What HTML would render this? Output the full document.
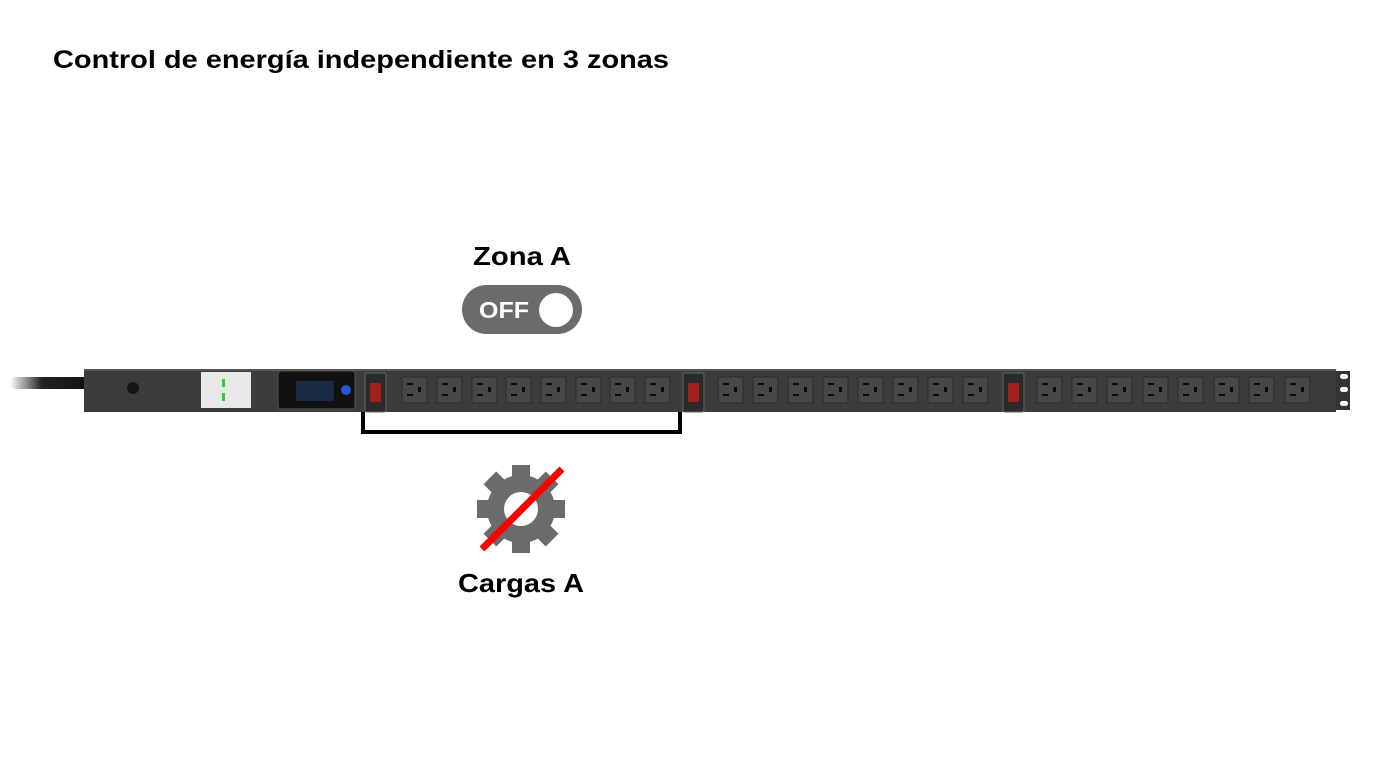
<!DOCTYPE html>
<html><head><meta charset="utf-8"><style>
html,body{margin:0;padding:0;background:#fff;}
body{width:1380px;height:780px;overflow:hidden;position:relative;font-family:"Liberation Sans",Arial,sans-serif;}
</style></head><body>
<svg width="1380" height="780" viewBox="0 0 1380 780" xmlns="http://www.w3.org/2000/svg" style="position:absolute;left:0;top:0">
<defs>
<linearGradient id="cord" x1="0" x2="1"><stop offset="0" stop-color="#fff"/><stop offset="0.4" stop-color="#222"/><stop offset="1" stop-color="#111"/></linearGradient>
<g id="out">
  <rect x="0" y="0" width="25" height="26" fill="#474747" stroke="#2a2a2a" stroke-width="1"/>
  <rect x="5" y="6" width="6" height="2" fill="#0a0a0a"/>
  <rect x="5" y="17" width="6" height="2" fill="#0a0a0a"/>
  <rect x="16" y="10" width="3" height="5" fill="#0a0a0a"/>
</g>
<g id="sw">
  <rect x="0" y="0" width="21" height="39" rx="2" fill="#2a2a2a" stroke="#666" stroke-width="1"/>
  <rect x="5" y="10" width="11" height="19" fill="#a2201c"/>
</g>
</defs>
<text x="53" y="68" font-size="25" font-weight="bold" fill="#000" textLength="616" lengthAdjust="spacingAndGlyphs">Control de energía independiente en 3 zonas</text>
<rect x="10" y="377" width="80" height="12" rx="5" fill="url(#cord)"/>
<rect x="84" y="369" width="1252" height="43" fill="#3c3c3c"/>
<rect x="84" y="369" width="1252" height="2" fill="#555"/>
<path d="M1336 371 H1350 V410 H1336 Z" fill="#333"/>
<rect x="1340" y="374" width="8" height="5" rx="2.5" fill="#fff"/>
<rect x="1340" y="387" width="8" height="5" rx="2.5" fill="#fff"/>
<rect x="1340" y="401" width="8" height="5" rx="2.5" fill="#fff"/>
<circle cx="133" cy="388" r="6" fill="#151515"/>
<rect x="201" y="372" width="50" height="36" fill="#e8e8e8"/>
<rect x="222" y="379" width="3" height="8" fill="#3c3"/>
<rect x="222" y="393" width="3" height="8" fill="#3c3"/>
<rect x="278" y="371" width="77" height="38" rx="3" fill="#111" stroke="#555"/>
<rect x="296" y="381" width="38" height="20" fill="#1a2a44"/>
<circle cx="346" cy="390" r="5" fill="#1e5ad0"/>
<use href="#sw" x="365" y="373"/>
<use href="#sw" x="683" y="373"/>
<use href="#sw" x="1003" y="373"/>
<g>
<use href="#out" x="402" y="377"/><use href="#out" x="437" y="377"/><use href="#out" x="472" y="377"/><use href="#out" x="506" y="377"/>
<use href="#out" x="541" y="377"/><use href="#out" x="576" y="377"/><use href="#out" x="610" y="377"/><use href="#out" x="645" y="377"/>
<use href="#out" x="718" y="377"/><use href="#out" x="753" y="377"/><use href="#out" x="788" y="377"/><use href="#out" x="823" y="377"/>
<use href="#out" x="858" y="377"/><use href="#out" x="893" y="377"/><use href="#out" x="928" y="377"/><use href="#out" x="963" y="377"/>
<use href="#out" x="1037" y="377"/><use href="#out" x="1072" y="377"/><use href="#out" x="1107" y="377"/><use href="#out" x="1143" y="377"/>
<use href="#out" x="1178" y="377"/><use href="#out" x="1214" y="377"/><use href="#out" x="1249" y="377"/><use href="#out" x="1285" y="377"/>
</g>
<path d="M363 412 V432 H680 V412" fill="none" stroke="#000" stroke-width="4"/>
<text x="473" y="265" font-size="26" font-weight="bold" fill="#000" textLength="98" lengthAdjust="spacingAndGlyphs">Zona A</text>
<rect x="462" y="285" width="120" height="49" rx="24.5" fill="#6b6b6b"/>
<text x="479" y="318" font-size="23" font-weight="bold" fill="#fff" textLength="50" lengthAdjust="spacingAndGlyphs">OFF</text>
<circle cx="556" cy="310" r="17" fill="#fff"/>
<g transform="translate(521,509)" fill="#6b6b6b">
  <circle r="34"/>
  <rect x="-9" y="-44" width="18" height="88"/>
  <rect x="-9" y="-44" width="18" height="88" transform="rotate(45)"/>
  <rect x="-9" y="-44" width="18" height="88" transform="rotate(90)"/>
  <rect x="-9" y="-44" width="18" height="88" transform="rotate(135)"/>
  <circle r="17" fill="#fff"/>
</g>
<line x1="482" y1="549" x2="562" y2="469" stroke="#f00" stroke-width="7"/>
<text x="458" y="592" font-size="26" font-weight="bold" fill="#000" textLength="126" lengthAdjust="spacingAndGlyphs">Cargas A</text>
</svg>
</body></html>
